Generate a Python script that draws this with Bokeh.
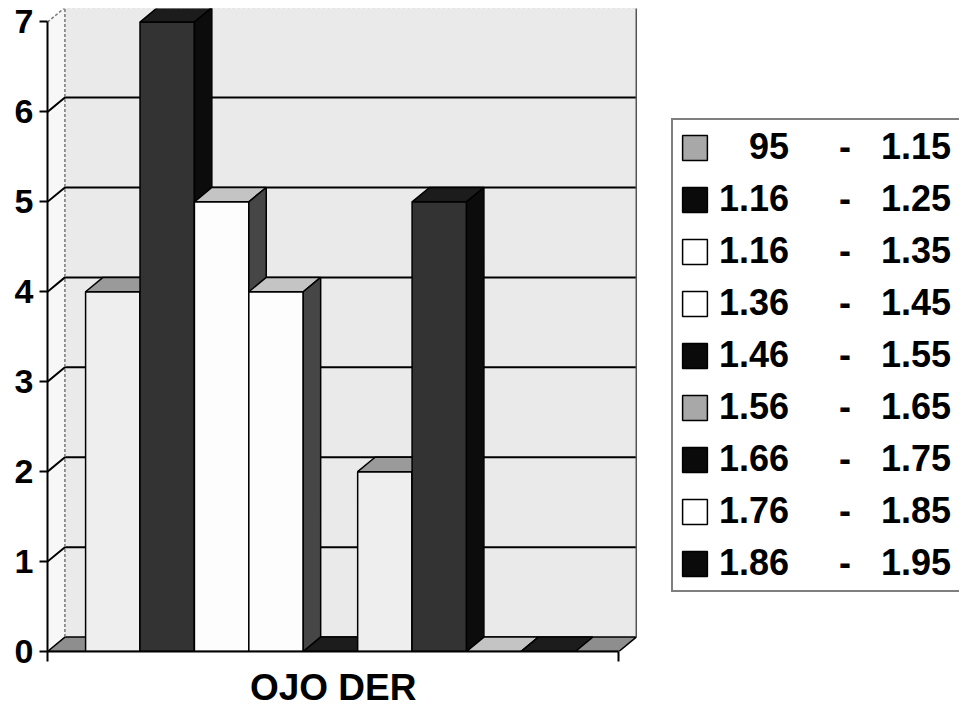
from bokeh.plotting import figure
from bokeh.models import Range1d, FixedTicker, Legend, LegendItem
from bokeh.embed import file_html
from bokeh.resources import INLINE

# ---------------- data ----------------
category = "OJO DER"
range_lo = ["95", "1.16", "1.16", "1.36", "1.46", "1.56", "1.66", "1.76", "1.86"]
range_hi = ["1.15", "1.25", "1.35", "1.45", "1.55", "1.65", "1.75", "1.85", "1.95"]
counts = [4, 7, 5, 4, 0, 2, 5, 0, 0]
shades = ["gray", "black", "white", "white", "black", "gray", "black", "white", "black"]
y_ticks = [0, 1, 2, 3, 4, 5, 6, 7]

# ---------------- style ----------------
FONT = "Liberation Sans"
NB = "\u00a0"
palette = {
    "gray":  dict(front="#eeeeee", top="#9a9a9a", side="#505050", legend="#a8a8a8"),
    "black": dict(front="#333333", top="#1c1c1c", side="#0c0c0c", legend="#0a0a0a"),
    "white": dict(front="#fdfdfd", top="#c4c4c4", side="#464646", legend="#ffffff"),
}
DX, DY = 0.32, 0.16          # oblique depth offset (data units)
GAP, BW = 0.7, 1.0           # gap before first bar, bar width
N = len(counts)
X_FRONT = GAP + N * BW + 0.8   # front edge of floor
YMAX = max(y_ticks)

p = figure(width=961, height=710, output_backend="svg", toolbar_location=None,
           x_range=Range1d(0, 16.76), y_range=Range1d(0, 7.15),
           min_border_left=47, min_border_right=2, min_border_top=8,
           min_border_bottom=50, background_fill_color="white",
           border_fill_color="white", outline_line_color=None)
p.xgrid.visible = False
p.ygrid.visible = False

# walls and floor
p.patch([0, DX, DX, 0], [0, DY, YMAX + DY, YMAX], fill_color="#f7f7f7", line_color=None)
p.quad(left=DX, right=X_FRONT + DX, bottom=DY, top=YMAX + DY,
       fill_color="#eaeaea", line_color=None)
p.patch([0, X_FRONT, X_FRONT + DX, DX], [0, 0, DY, DY],
        fill_color="#8e8e8e", line_color="black", line_width=1.5)

# gridlines on side wall + back wall
gx, gy = [], []
for v in y_ticks[1:-1]:
    gx.append([0, DX, X_FRONT + DX])
    gy.append([v, v + DY, v + DY])
p.multi_line(gx, gy, line_color="black", line_width=2)
p.multi_line([[0, DX, X_FRONT + DX], [DX, DX]],
             [[YMAX, YMAX + DY, YMAX + DY], [DY, YMAX + DY]],
             line_color="#777777", line_width=1.5, line_dash="3 2")
p.line([X_FRONT + DX, X_FRONT + DX], [DY, YMAX + DY], line_color="#555555", line_width=1.5)

# bars (front, top, side), left to right
for i, (v, s) in enumerate(zip(counts, shades)):
    c = palette[s]
    xl = GAP + i * BW
    xr = xl + BW
    p.vbar(x=[(xl + xr) / 2], width=BW, bottom=0, top=[v],
           fill_color=c["front"], line_color="black", line_width=1.5)
    p.patch([xl, xr, xr + DX, xl + DX], [v, v, v + DY, v + DY],
            fill_color=c["top"], line_color="black", line_width=1.5)
    if v > 0:
        p.patch([xr, xr + DX, xr + DX, xr], [0, DY, v + DY, v],
                fill_color=c["side"], line_color="black", line_width=1.5)

# legend entries (hidden swatch renderers)
gap1 = 5
gap2 = 3
items = []
for lo, hi, s in zip(range_lo, range_hi, shades):
    r = p.vbar(x=[1], width=1, bottom=0, top=[1], fill_color=palette[s]["legend"],
               line_color="black", line_width=1.5, visible=False)
    pad = NB * (3 if len(lo) < 4 else 0)
    label = pad + lo + NB * gap1 + "-" + NB * gap2 + hi
    items.append(LegendItem(label=label, renderers=[r]))

legend = Legend(items=items, location=(624, 59), orientation="vertical",
                glyph_width=31, glyph_height=31, label_width=234, label_height=40,
                label_standoff=9, spacing=10, padding=6, margin=0,
                label_text_font=FONT, label_text_font_style="bold",
                label_text_font_size="36px", label_text_color="black",
                border_line_color="black", border_line_width=2,
                background_fill_color="white", background_fill_alpha=1)
p.add_layout(legend, "center")

# axes
ya = p.yaxis[0]
ya.ticker = FixedTicker(ticks=y_ticks)
ya.bounds = (0, YMAX)
ya.axis_line_width = 2
ya.axis_line_color = "black"
ya.major_tick_out = 8
ya.major_tick_in = 0
ya.major_tick_line_width = 2
ya.minor_tick_line_color = None
ya.major_label_standoff = 6
ya.major_label_text_font = FONT
ya.major_label_text_font_style = "bold"
ya.major_label_text_font_size = "34px"
ya.major_label_text_color = "black"

# x axis: category name as the single major label, boundaries as minor ticks
xa = p.xaxis[0]
xa.ticker = FixedTicker(ticks=[X_FRONT / 2], minor_ticks=[0, X_FRONT])
xa.bounds = (0, X_FRONT)
xa.major_label_overrides = {X_FRONT / 2: category}
xa.major_tick_out = 0
xa.major_tick_in = 0
xa.minor_tick_out = 10
xa.minor_tick_in = 0
xa.minor_tick_line_width = 2
xa.minor_tick_line_color = "black"
xa.axis_line_width = 2
xa.axis_line_color = "black"
xa.major_label_standoff = 5
xa.major_label_text_font = FONT
xa.major_label_text_font_style = "bold"
xa.major_label_text_font_size = "37px"
xa.major_label_text_color = "black"

open("out.html", "w").write(file_html(p, INLINE))
